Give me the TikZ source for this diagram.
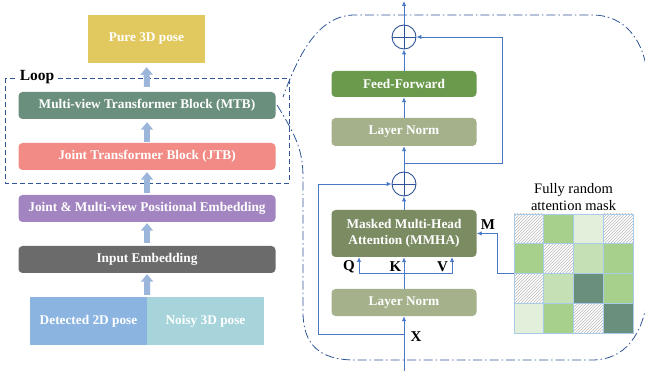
\documentclass[tikz,border=0pt]{standalone}
\usepackage{fontspec}
\setmainfont{Liberation Serif}
\usepackage{tikz}
\usetikzlibrary{positioning,arrows.meta,patterns}

\definecolor{pureyel}{HTML}{E2C95F}
\definecolor{mtbgrn}{HTML}{6A8F7C}
\definecolor{jtbred}{HTML}{F28B85}
\definecolor{pospur}{HTML}{A284C0}
\definecolor{inpgry}{HTML}{6B6B6B}
\definecolor{detblu}{HTML}{8BB4E1}
\definecolor{noicyn}{HTML}{A6D4DA}
\definecolor{ffgrn}{HTML}{6B9A4D}
\definecolor{lngrn}{HTML}{A4B18B}
\definecolor{mhagrn}{HTML}{7B8C63}
\definecolor{lineblu}{HTML}{4A78C8}
\definecolor{bigarr}{HTML}{9CB5DA}
\definecolor{dashblu}{HTML}{2F5597}
\definecolor{mskg}{HTML}{A8D08D}
\definecolor{mskl}{HTML}{E2EFDA}
\definecolor{mskm}{HTML}{C5E0B4}
\definecolor{mskd}{HTML}{6A8F7C}
\definecolor{mskedge}{HTML}{A9CBEA}

\begin{document}
\begin{tikzpicture}[x=1pt,y=-1pt,font=\fontsize{13.3}{16}\selectfont\bfseries,
  >={Latex[length=5pt,width=4.5pt]}]
% ---- styles ----
\tikzstyle{blk}=[rounded corners=4pt,text=white,align=center,
  minimum width=257pt,minimum height=27pt,inner sep=0pt]
\tikzstyle{posebox}=[text=white,align=center,minimum width=117pt,
  minimum height=48pt,inner sep=0pt]
\tikzstyle{rblk}=[rounded corners=4pt,text=white,align=center,
  minimum width=145pt,minimum height=27pt,inner sep=0pt]
\tikzstyle{bigarrow}=[draw=bigarr,line width=6pt,
  -{Triangle[width=12pt,length=7.5pt]}]
\tikzstyle{flow}=[draw=lineblu,line width=0.9pt]
\tikzstyle{addop}=[circle,draw=dashblu,line width=0.9pt,minimum size=24pt,
  inner sep=0pt,path picture={\draw[dashblu,line width=0.9pt]
  (path picture bounding box.north) -- (path picture bounding box.south)
  (path picture bounding box.west) -- (path picture bounding box.east);}]
\tikzstyle{lbl}=[font=\fontsize{15}{16}\selectfont\bfseries,inner sep=0pt]
\tikzstyle{cell}=[draw=mskedge,line width=0.8pt,minimum size=29.75pt,
  inner sep=0pt]
\tikzstyle{cellh}=[pattern=north east lines,pattern color=gray!55]
\tikzstyle{cellg}=[fill=mskg]
\tikzstyle{celll}=[fill=mskl]
\tikzstyle{cellm}=[fill=mskm]
\tikzstyle{celld}=[fill=mskd]

\useasboundingbox (0,0) rectangle (645,371);
\clip (0,0) rectangle (645,371);

% ---- zoom outline (drawn first, underneath) ----
\draw[dashblu,line width=0.8pt,dash pattern=on 9pt off 3pt on 1.5pt off 3pt]
  (277,105) .. controls (296,136) and (303,150) .. (303,178) -- (303,312)
  .. controls (303,345) and (320,360) .. (355,360) -- (592,360)
  .. controls (625,360) and (643,335) .. (648,295) -- (648,80)
  .. controls (645,40) and (625,15) .. (592,15) -- (355,15)
  .. controls (320,15) and (300,50) .. (283,97);

% ---- loop box ----
\draw[dashblu,line width=0.9pt,dash pattern=on 5pt off 3pt] (5,78) rectangle (289,183);
\node[fill=white,font=\fontsize{15.5}{16}\selectfont\bfseries,inner sep=2.5pt,
  text=black] (looplbl) at (37,77.5) {Loop};

% ---- left column ----
\node[posebox,fill=pureyel] (pure) at (146.5,39) {Pure 3D pose};
\node[blk,fill=mtbgrn] (mtb) at (147,105.5) {Multi-view Transformer Block (MTB)};
\node[blk,fill=jtbred] (jtb) at (147,156.5) {Joint Transformer Block (JTB)};
\node[blk,fill=pospur] (pos) at (147,208.5) {Joint \& Multi-view Positional Embedding};
\node[blk,fill=inpgry] (inp) at (147,259.5) {Input Embedding};
\node[posebox,fill=detblu] (det) at (88.5,321) {Detected 2D pose};
\node[posebox,fill=noicyn] (noisy) at (205.5,321) {Noisy 3D pose};

\draw[bigarrow,shorten <=2pt,shorten >=1pt] (det.north east) -- (inp.south);
\draw[bigarrow,shorten <=3pt,shorten >=1pt] (inp.north) -- (pos.south);
\draw[bigarrow,shorten <=2pt,shorten >=2pt] (pos.north) -- (jtb.south);
\draw[bigarrow,shorten <=1pt,shorten >=3pt] (jtb.north) -- (mtb.south);
\draw[bigarrow,shorten <=5pt,shorten >=4pt] (mtb.north) -- (pure.south);

% ---- transformer block ----
\node[rblk,fill=lngrn] (ln1) at (404,302.5) {Layer Norm};
\node[rblk,fill=mhagrn,minimum height=47pt] (mmha) at (404,233.5)
  {Masked Multi-Head\\Attention (MMHA)};
\node[addop] (add1) at (404,184) {};
\node[rblk,fill=lngrn,minimum height=28pt] (ln2) at (404,132) {Layer Norm};
\node[rblk,fill=ffgrn,minimum height=26pt] (ff) at (404,84) {Feed-Forward};
\node[addop] (add2) at (404,37) {};

\coordinate (xin) at (404,371);
\coordinate (xtap) at (404,334);
\coordinate (res1) at (318,184);
\coordinate (qkv) at (404,273);
\coordinate (qin) at (359,257);
\coordinate (vin) at (452,257);
\coordinate (tap2) at (404,163);
\coordinate (res2) at (502,37);
\coordinate (out) at (404,1);

\draw[flow,->] (xin) -- (ln1.south);
\draw[flow,->] (xtap) -| (res1) -- (add1.west);
\draw[flow] (ln1.north) -- (qkv);
\draw[flow,->] (qkv) -- (mmha.south);
\draw[flow,->] (qkv) -| (qin);
\draw[flow,->] (qkv) -| (vin);
\draw[flow,->] (mmha.north) -- (add1.south);
\draw[flow,->] (add1.north) -- (ln2.south);
\draw[flow,->] (ln2.north) -- (ff.south);
\draw[flow,->] (ff.north) -- (add2.south);
\draw[flow,->] (tap2) -| (res2) -- (add2.east);
\draw[flow,->] (add2.north) -- (out);

\node[lbl] (lq) at (349,267) {Q};
\node[lbl] (lk) at (395.5,267) {K};
\node[lbl] (lv) at (442.5,267) {V};
\node[lbl] (lx) at (416,337) {X};
\node[lbl] (lm) at (488,225) {M};

% ---- attention mask ----
\foreach \r/\c/\sty in {0/0/cellh,0/1/cellg,0/2/celll,0/3/cellh,
  1/0/cellg,1/1/cellh,1/2/cellm,1/3/cellg,
  2/0/cellh,2/1/cellm,2/2/celld,2/3/cellg,
  3/0/celll,3/1/cellg,3/2/cellh,3/3/celld}
  \node[cell,\sty] (m\r\c) at ({514+29.75*(\c+0.5)},{214+29.75*(\r+0.5)}) {};
\node[font=\fontsize{14.5}{17}\selectfont,align=center,anchor=south,inner sep=0pt]
  (masktitle) at (573.5,211) {Fully random\\attention mask};

\draw[flow,->] (m10.south west) -- ++(-16,0) |- (mmha.east);

\end{tikzpicture}
\end{document}
